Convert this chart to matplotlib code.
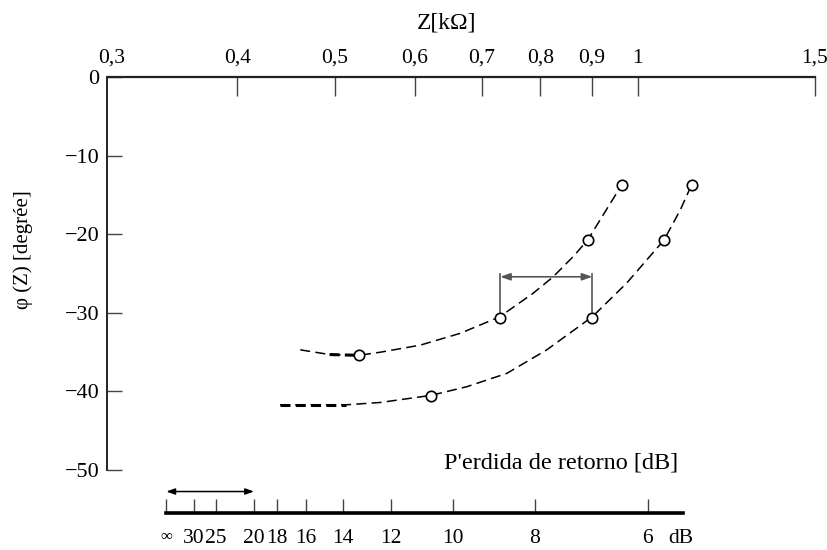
import numpy as np
import matplotlib
matplotlib.use('Agg')
import matplotlib.pyplot as plt

plt.rcParams['font.family'] = ['Liberation Serif', 'DejaVu Serif']
plt.rcParams['lines.scale_dashes'] = False

########################################
# Data
########################################
# top axis: impedance |Z| in kOhm (log scale)
z_ticks = [0.3, 0.4, 0.5, 0.6, 0.7, 0.8, 0.9, 1.0, 1.5]
z_labels = ['0,3', '0,4', '0,5', '0,6', '0,7', '0,8', '0,9', '1', '1,5']
phi_ticks = [0, -10, -20, -30, -40, -50]
phi_labels = ['0', '\u221210', '\u221220', '\u221230', '\u221240', '\u221250']

# dashed curves
z_line_1 = [0.462, 0.494, 0.528, 0.555, 0.608, 0.666, 0.729, 0.787, 0.824, 0.863, 0.892, 0.924, 0.964]
phi_line_1 = [-34.7, -35.3, -35.4, -35.0, -34.1, -32.6, -30.5, -27.5, -25.4, -22.8, -20.7, -17.5, -13.7]
z_line_2 = [0.441, 0.491, 0.513, 0.555, 0.623, 0.676, 0.741, 0.812, 0.901, 0.975, 1.062, 1.102, 1.131]
phi_line_2 = [-41.7, -41.7, -41.7, -41.4, -40.5, -39.4, -37.7, -34.7, -30.5, -26.2, -20.7, -16.9, -13.7]

# measured points (open circles)
z_marks_1 = [0.528, 0.730, 0.892, 0.964]
phi_marks_1 = [-35.4, -30.6, -20.7, -13.7]
z_marks_2 = [0.623, 0.901, 1.062, 1.131]
phi_marks_2 = [-40.6, -30.6, -20.7, -13.7]

# bottom scale: return loss against Z0
Z0 = 0.34
rl_ticks = [np.inf, 30, 25, 20, 18, 16, 14, 12, 10, 8, 6]
rl_labels = ['\u221e', '30', '25', '20', '18', '16', '14', '12', '10', '8', '6']
rl_end = 5.5


def rl_to_z(rl):
	if np.isinf(rl):
		return Z0
	r = 10 ** (rl / 20.0)
	return Z0 * (r + 1) / (r - 1)


########################################
# Figure
########################################
W, H = 828, 550
fig = plt.figure(figsize=(W / 100, H / 100), dpi=100)

left, right, top, bottom = 107.5, 815.0, 77.3, 470.0
ax = fig.add_axes([left / W, 1 - bottom / H, (right - left) / W, (bottom - top) / H])
ax.set_xscale('log')
ax.set_xlim(0.2972, 1.5)
ax.set_ylim(-50, 0)

fs = 15.5
for s in ['bottom', 'right']:
	ax.spines[s].set_visible(False)
ax.spines['top'].set_linewidth(1.6)
ax.spines['left'].set_linewidth(1.4)
ax.spines['top'].set_color('#222222')
ax.spines['left'].set_color('#222222')

ax.xaxis.set_ticks_position('top')
ax.set_xticks(z_ticks)
ax.set_xticklabels(z_labels)
ax.xaxis.set_minor_locator(matplotlib.ticker.NullLocator())
ax.tick_params(axis='x', which='major', direction='in', length=14, width=1.0,
		color='#444444', pad=7, labelsize=fs)
ax.xaxis.get_major_ticks()[0].tick2line.set_visible(False)

ax.set_yticks(phi_ticks)
ax.set_yticklabels(phi_labels)
ax.tick_params(axis='y', direction='in', length=11, width=1.0,
		color='#444444', pad=6, labelsize=16)

ax.text(0.479, 1.1395, 'Z[k\u03a9]', transform=ax.transAxes, ha='center', va='center', fontsize=17)
fig.text(23.5 / W, 1 - 250 / H, '\u03c6 (Z) [degr\u00e9e]', rotation=90, ha='center', va='center', fontsize=15)

# curves
thin = dict(color='black', lw=1.1, dashes=(7.2, 3.8), dash_capstyle='butt')
thick = dict(color='black', lw=2.2, dashes=(7.2, 3.8), dash_capstyle='butt')
ax.plot(z_line_1, phi_line_1, **thin)
ax.plot(z_line_1[1:3], phi_line_1[1:3], **thick)
ax.plot(z_line_2, phi_line_2, **thin)
ax.plot(z_line_2[0:3], phi_line_2[0:3], **thick)

mk = dict(ls='none', marker='o', ms=7.5, mfc='white', mec='black', mew=1.2, zorder=5)
ax.plot(z_marks_1, phi_marks_1, **mk)
ax.plot(z_marks_2, phi_marks_2, **mk)

# bracket between the two -30 points
bracket_y = -25.4
gray = '#555555'
xa, xb = z_marks_1[1], z_marks_2[1]
ax.plot([xa, xa], [phi_marks_1[1] + 0.7, bracket_y + 0.3], color=gray, lw=1.2)
ax.plot([xb, xb], [phi_marks_2[1] + 0.7, bracket_y + 0.3], color=gray, lw=1.2)
ax.annotate('', xy=(xb, bracket_y), xytext=(xa, bracket_y),
		arrowprops=dict(arrowstyle='<|-|>,head_length=0.5,head_width=0.18', color=gray, lw=1.2,
			shrinkA=0, shrinkB=0, mutation_scale=12))

ax.text(678.0 / W, 1 - 463.0 / H, "P'erdida de retorno [dB]", transform=fig.transFigure,
		ha='right', va='center', fontsize=17.5)

########################################
# Return loss scale
########################################
rl_y = 512.7
axr = fig.add_axes([left / W, 1 - rl_y / H, (right - left) / W, 27.5 / H])
axr.set_xscale('log')
axr.set_xlim(ax.get_xlim())
axr.set_ylim(0, 1)
axr.patch.set_visible(False)
for s in ['top', 'right', 'left']:
	axr.spines[s].set_visible(False)
axr.spines['bottom'].set_linewidth(2.6)
axr.spines['bottom'].set_bounds(rl_to_z(np.inf), rl_to_z(rl_end))
axr.set_yticks([])
rl_pos = [rl_to_z(v) for v in rl_ticks]
axr.set_xticks(rl_pos)
axr.set_xticklabels(rl_labels)
axr.xaxis.set_minor_locator(matplotlib.ticker.NullLocator())
axr.tick_params(axis='x', direction='in', length=10, width=1.0, color='#444444',
		pad=11.5, labelsize=fs)
axr.get_xticklabels()[0].set_fontsize(12)

axr.annotate('dB', xy=(rl_to_z(6), 0), xytext=(14.5, -11.5), textcoords='offset points',
		ha='left', va='top', fontsize=fs)
axr.annotate('', xy=(rl_to_z(20), 0.77), xytext=(rl_to_z(np.inf), 0.77),
		arrowprops=dict(arrowstyle='<|-|>,head_length=0.5,head_width=0.18', color='black', lw=1.1,
			shrinkA=0, shrinkB=0, mutation_scale=10))

plt.savefig('out.png', dpi=100)
